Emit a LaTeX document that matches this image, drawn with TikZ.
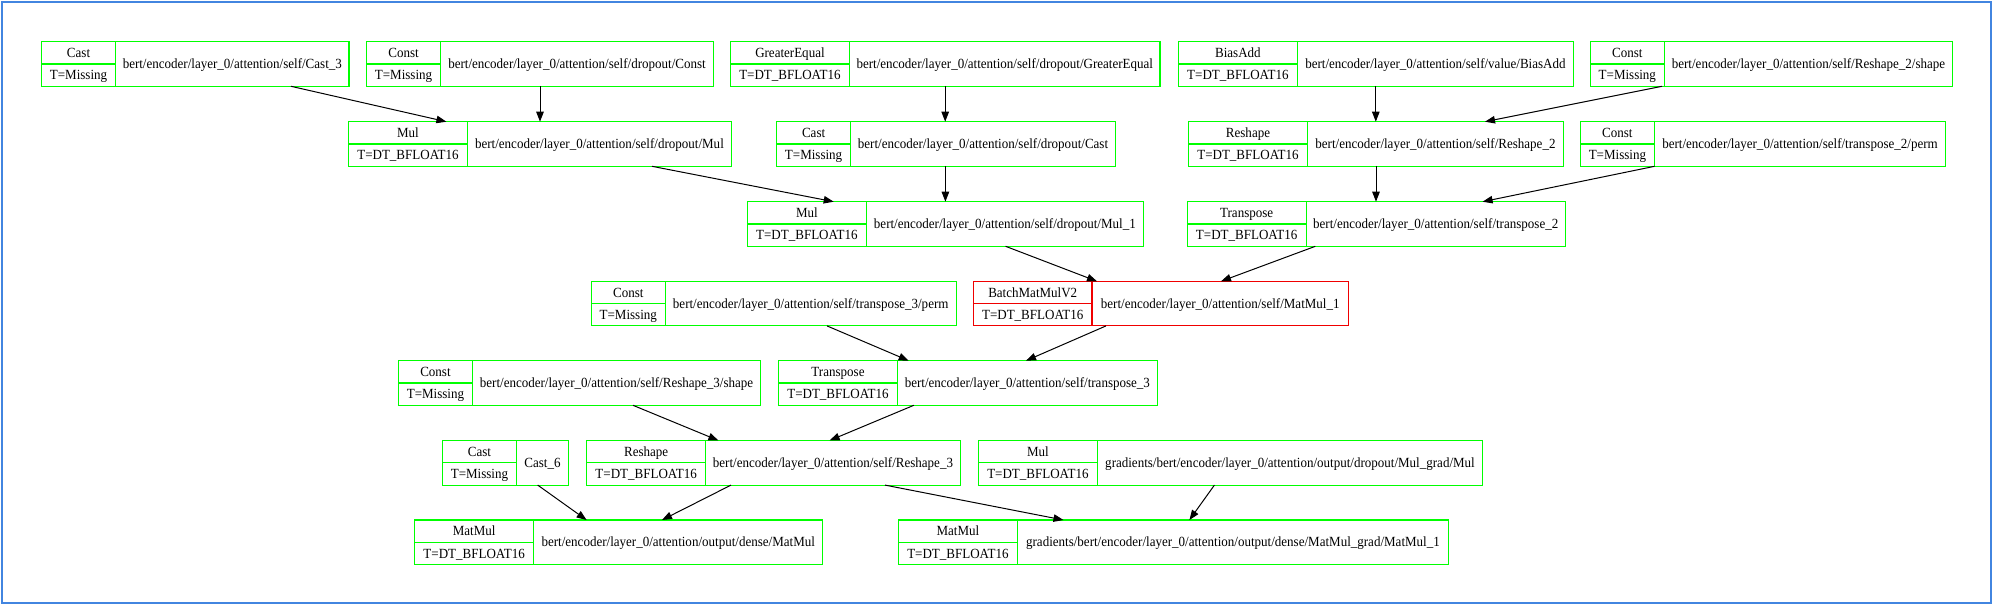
\documentclass[tikz,border=0pt]{standalone}
\usepackage{fontspec}
\setmainfont{Liberation Serif}[FakeStretch=0.93]
\usetikzlibrary{arrows.meta}
\definecolor{recgreen}{RGB}{0,255,0}
\definecolor{recred}{RGB}{240,0,0}
\definecolor{frameblue}{RGB}{66,133,224}
\tikzset{
  rec/.style={draw, line width=1.1pt, rectangle, minimum height=44.6pt, inner sep=0pt, outer sep=0pt},
  recline/.style={line width=1.1pt},
  ok/.style={draw=recgreen},
  bad/.style={draw=recred},
  lbl/.style={inner sep=0pt, text height=9.2pt, text depth=0pt, font=\fontsize{14}{16}\selectfont},
  edge/.style={line width=1pt, -{Triangle[length=10pt,width=7.5pt]}},
}
% #1 name, #2 left, #3 divider, #4 right, #5 top, #6 type, #7 T value, #8 label, #9 colour style
\newcommand\recnode[9]{%
  \pgfmathsetmacro\recw{#4-#2}%
  \pgfmathsetmacro\recd{#3-#2}%
  \pgfmathsetmacro\rech{(#3-#2)/2}%
  \pgfmathsetmacro\recm{(#3+#4)/2-#2}%
  \node[rec,#9,minimum width=\recw pt,anchor=north west] (#1) at (#2,#5) {};
  \draw[#9,recline] ([xshift=\recd pt]#1.north west) -- ([xshift=\recd pt]#1.south west);
  \draw[#9,recline] (#1.west) -- ([xshift=\recd pt]#1.west);
  \node[lbl] (#1-type) at ([xshift=\rech pt,yshift=-11.15pt]#1.north west) {#6};
  \node[lbl] (#1-tval) at ([xshift=\rech pt,yshift=11.15pt]#1.south west) {#7};
  \node[lbl] (#1-name) at ([xshift=\recm pt]#1.west) {#8};
}
\begin{document}
\begin{tikzpicture}[x=1pt,y=-1pt]
\useasboundingbox (0,0) rectangle (1992,605);
\fill[white] (0,0) rectangle (1992,605);
\draw[draw=frameblue, line width=2pt] (2.3,2.3) rectangle (1990.7,603.3);

% row 1
\recnode{castthree}{41.5}{115.6}{349}{41.7}{Cast}{T=Missing}{bert/encoder/layer\_0/attention/self/Cast\_3}{ok}
\recnode{dconst}{366.5}{440.6}{713.4}{41.7}{Const}{T=Missing}{bert/encoder/layer\_0/attention/self/dropout/Const}{ok}
\recnode{gequal}{730.4}{849.5}{1160}{41.7}{GreaterEqual}{T=DT\_BFLOAT16}{bert/encoder/layer\_0/attention/self/dropout/GreaterEqual}{ok}
\recnode{biasadd}{1178.5}{1297.3}{1573.5}{41.7}{BiasAdd}{T=DT\_BFLOAT16}{bert/encoder/layer\_0/attention/self/value/BiasAdd}{ok}
\recnode{rtwoshape}{1590.3}{1664.4}{1952.6}{41.7}{Const}{T=Missing}{bert/encoder/layer\_0/attention/self/Reshape\_2/shape}{ok}
% row 2
\recnode{dmul}{348.6}{467.4}{731.5}{121.7}{Mul}{T=DT\_BFLOAT16}{bert/encoder/layer\_0/attention/self/dropout/Mul}{ok}
\recnode{dcast}{776.8}{850.4}{1115.6}{121.7}{Cast}{T=Missing}{bert/encoder/layer\_0/attention/self/dropout/Cast}{ok}
\recnode{rtwo}{1188.4}{1307.6}{1563.3}{121.7}{Reshape}{T=DT\_BFLOAT16}{bert/encoder/layer\_0/attention/self/Reshape\_2}{ok}
\recnode{ttwoperm}{1580.5}{1654.3}{1945.7}{121.7}{Const}{T=Missing}{bert/encoder/layer\_0/attention/self/transpose\_2/perm}{ok}
% row 3
\recnode{dmulone}{747.4}{866.3}{1143.4}{201.7}{Mul}{T=DT\_BFLOAT16}{bert/encoder/layer\_0/attention/self/dropout/Mul\_1}{ok}
\recnode{ttwo}{1187.2}{1306.1}{1565.3}{201.7}{Transpose}{T=DT\_BFLOAT16}{bert/encoder/layer\_0/attention/self/transpose\_2}{ok}
% row 4
\recnode{tthreeperm}{591.3}{665.3}{956.1}{281.3}{Const}{T=Missing}{bert/encoder/layer\_0/attention/self/transpose\_3/perm}{ok}
\recnode{bmm}{973.5}{1092}{1348.5}{281.3}{BatchMatMulV2}{T=DT\_BFLOAT16}{bert/encoder/layer\_0/attention/self/MatMul\_1}{bad}
% row 5
\recnode{rthreeshape}{398.5}{472.4}{760.7}{360.7}{Const}{T=Missing}{bert/encoder/layer\_0/attention/self/Reshape\_3/shape}{ok}
\recnode{tthree}{778.6}{897.4}{1157.3}{360.7}{Transpose}{T=DT\_BFLOAT16}{bert/encoder/layer\_0/attention/self/transpose\_3}{ok}
% row 6
\recnode{castsix}{442.5}{516.5}{568.4}{440.5}{Cast}{T=Missing}{Cast\_6}{ok}
\recnode{rthree}{586.8}{705.5}{960.4}{440.5}{Reshape}{T=DT\_BFLOAT16}{bert/encoder/layer\_0/attention/self/Reshape\_3}{ok}
\recnode{gmul}{978.5}{1097.4}{1482.6}{440.5}{Mul}{T=DT\_BFLOAT16}{gradients/bert/encoder/layer\_0/attention/output/dropout/Mul\_grad/Mul}{ok}
% row 7
\recnode{matmul}{414.7}{533.6}{822.9}{520}{MatMul}{T=DT\_BFLOAT16}{bert/encoder/layer\_0/attention/output/dense/MatMul}{ok}
\recnode{gmatmul}{898.3}{1017.6}{1448.3}{520}{MatMul}{T=DT\_BFLOAT16}{gradients/bert/encoder/layer\_0/attention/output/dense/MatMul\_grad/MatMul\_1}{ok}

% edges
\draw[edge] (castthree.south -| 291,0) -- (dmul.north -| 446.4,0);
\draw[edge] (dconst.south -| 540,0) -- (dmul.north -| 540,0);
\draw[edge] (gequal.south -| 945.2,0) -- (dcast.north -| 945.2,0);
\draw[edge] (biasadd.south -| 1375.8,0) -- (rtwo.north -| 1375.8,0);
\draw[edge] (rtwoshape.south -| 1662,0) -- (rtwo.north -| 1485,0);
\draw[edge] (dmul.south -| 652,0) -- (dmulone.north -| 833.7,0);
\draw[edge] (dcast.south -| 945.4,0) -- (dmulone.north -| 945.4,0);
\draw[edge] (rtwo.south -| 1376,0) -- (ttwo.north -| 1376,0);
\draw[edge] (ttwoperm.south -| 1654.6,0) -- (ttwo.north -| 1482.6,0);
\draw[edge] (dmulone.south -| 1005.6,0) -- (bmm.north -| 1097,0);
\draw[edge] (ttwo.south -| 1315.3,0) -- (bmm.north -| 1221,0);
\draw[edge] (tthreeperm.south -| 827,0) -- (tthree.north -| 908.7,0);
\draw[edge] (bmm.south -| 1106,0) -- (tthree.north -| 1026,0);
\draw[edge] (rthreeshape.south -| 633,0) -- (rthree.north -| 718.4,0);
\draw[edge] (tthree.south -| 913.8,0) -- (rthree.north -| 829.6,0);
\draw[edge] (castsix.south -| 537.7,0) -- (matmul.north -| 586.6,0);
\draw[edge] (rthree.south -| 731,0) -- (matmul.north -| 662,0);
\draw[edge] (rthree.south -| 885,0) -- (gmatmul.north -| 1063.5,0);
\draw[edge] (gmul.south -| 1214.4,0) -- (gmatmul.north -| 1189.4,0);
\end{tikzpicture}
\end{document}
